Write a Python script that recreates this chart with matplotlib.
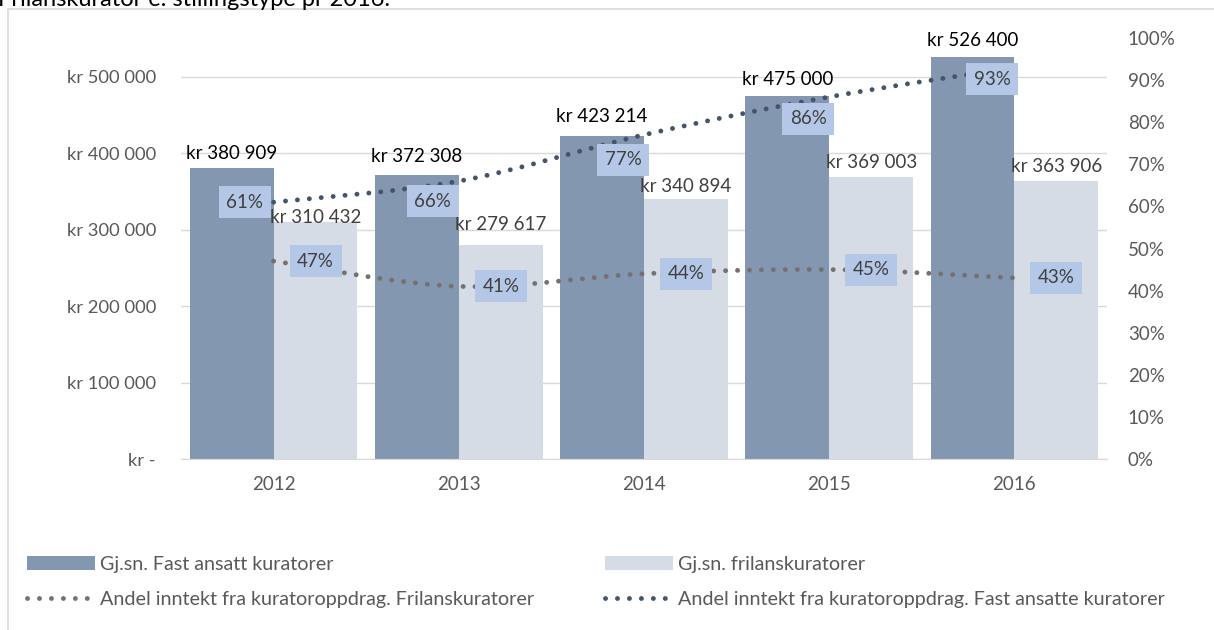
import numpy as np
import matplotlib.pyplot as plt
from matplotlib.path import Path
from matplotlib.patches import PathPatch, Patch, Rectangle
from matplotlib.lines import Line2D

plt.rcParams['font.family'] = ['Lato', 'DejaVu Sans']

years = ['2012', '2013', '2014', '2015', '2016']
fast_ansatt = [380909, 372308, 423214, 475000, 526400]
frilans = [310432, 279617, 340894, 369003, 363906]
andel_fast = [0.61, 0.66, 0.77, 0.86, 0.93]
andel_frilans = [0.47, 0.41, 0.44, 0.45, 0.43]

# label placement (pixels)
fast_lbl_dy = [6, 10, 11, 8, 8]
fril_lbl_dy = [-4, 12, 4, 6, 6]
fast_pct_off = [(-29, 0), (-26, -20), (-21, -25), (-21, -22), (-22, -12)]
fril_pct_off = [(42, 0)] * 5

DARK = '#8497B0'
LIGHT = '#D6DCE5'
LINE_DARK = '#44546A'
LINE_GREY = '#767171'
BOX = '#B4C7E7'
TXT = '#595959'
GRID = '#D9D9D9'
FS = 13.5


def kr(v, pos=None):
    if v == 0:
        return 'kr -'
    return 'kr ' + f'{v:,.0f}'.replace(',', ' ')


def smooth_path(x, y):
    pts = np.column_stack([x, y]).astype(float)
    n = len(pts)
    verts = [pts[0]]
    codes = [Path.MOVETO]
    for i in range(n - 1):
        p0 = pts[max(i - 1, 0)]
        p1 = pts[i]
        p2 = pts[i + 1]
        p3 = pts[min(i + 2, n - 1)]
        verts += [p1 + (p2 - p0) / 6, p2 - (p3 - p1) / 6, p2]
        codes += [Path.CURVE4] * 3
    return Path(verts, codes)


fig = plt.figure(figsize=(12.14, 6.3), dpi=100)
W, H = 1214, 630
ax = fig.add_axes([181 / W, 1 - 459 / H, (1107 - 181) / W, (459 - 38) / H])
ax2 = ax.twinx()

x = np.arange(len(years))
bw = 0.453
ax.bar(x - bw / 2, fast_ansatt, bw, color=DARK, zorder=2)
ax.bar(x + bw / 2, frilans, bw, color=LIGHT, zorder=2)

for i in range(len(years)):
    ax.annotate(kr(fast_ansatt[i]), (x[i] - bw / 2, fast_ansatt[i]),
                xytext=(0, fast_lbl_dy[i]), textcoords='offset pixels',
                ha='center', va='bottom', fontsize=FS, color='black')
    ax.annotate(kr(frilans[i]), (x[i] + bw / 2, frilans[i]),
                xytext=(0, fril_lbl_dy[i]), textcoords='offset pixels',
                ha='center', va='bottom', fontsize=FS, color='#404040')

ax.set_xlim(-0.5, len(years) - 0.5)
ax.set_ylim(0, 551000)
ax.set_yticks(range(0, 500001, 100000))
ax.yaxis.set_major_formatter(plt.FuncFormatter(kr))
ax.set_xticks(x)
ax.set_xticklabels(years)
ax.grid(axis='y', color=GRID, lw=1, zorder=0)
ax.set_axisbelow(True)
ax.tick_params(axis='y', length=0, pad=18, labelsize=13.2, labelcolor=TXT)
ax.tick_params(axis='x', length=0, pad=12, labelsize=FS, labelcolor=TXT)
for s in ['top', 'right', 'left']:
    ax.spines[s].set_visible(False)
ax.spines['bottom'].set_color(GRID)

ax2.set_ylim(0, 1.0)
ax2.set_yticks(np.arange(0, 1.01, 0.1))
ax2.set_yticklabels([f'{int(round(v * 100))}%' for v in np.arange(0, 1.01, 0.1)])
ax2.tick_params(axis='y', length=0, pad=15, labelsize=FS, labelcolor=TXT)
for s in ['top', 'right', 'left', 'bottom']:
    ax2.spines[s].set_visible(False)

LW = 3.5
dots = (0, (0.01, 2.45))
for vals, col in [(andel_frilans, LINE_GREY), (andel_fast, LINE_DARK)]:
    pp = PathPatch(smooth_path(x, vals), fill=False, edgecolor=col, lw=LW,
                   linestyle=dots, capstyle='round', zorder=3)
    ax2.add_patch(pp)

for vals, offs in [(andel_fast, fast_pct_off), (andel_frilans, fril_pct_off)]:
    for i, v in enumerate(vals):
        ax2.annotate(f'{int(round(v * 100))}%', (x[i], v), xytext=offs[i],
                     textcoords='offset pixels', ha='center', va='center',
                     fontsize=FS, color='#404040', zorder=5,
                     bbox=dict(boxstyle='square,pad=0.4', fc=BOX, ec='none'))

# chart frame + cut-off title
fig.add_artist(Rectangle((8 / W, -0.1), 1.2, 1.1 - 9 / H, transform=fig.transFigure,
                         fill=False, ec=GRID, lw=1.2))
fig.text(-2 / W, 1 - 6 / H, 'Frilanskurator e. stillingstype pr 2016.',
         fontsize=17, color='black', va='baseline')

handles = [Patch(facecolor=DARK),
           Line2D([], [], color=LINE_GREY, lw=LW, linestyle=dots, dash_capstyle='round'),
           Patch(facecolor=LIGHT),
           Line2D([], [], color=LINE_DARK, lw=LW, linestyle=dots, dash_capstyle='round')]
labels = ['Gj.sn. Fast ansatt kuratorer',
          'Andel inntekt fra kuratoroppdrag. Frilanskuratorer',
          'Gj.sn. frilanskuratorer',
          'Andel inntekt fra kuratoroppdrag. Fast ansatte kuratorer']
fig.legend(handles, labels, ncol=2, loc='center left',
           bbox_to_anchor=(27 / W, 1 - 582 / H), frameon=False, fontsize=14.2,
           labelcolor=TXT, handlelength=3.45, handletextpad=0.25,
           columnspacing=3.6, labelspacing=0.95, borderpad=0, borderaxespad=0)

fig.savefig('out.png', dpi=100)
